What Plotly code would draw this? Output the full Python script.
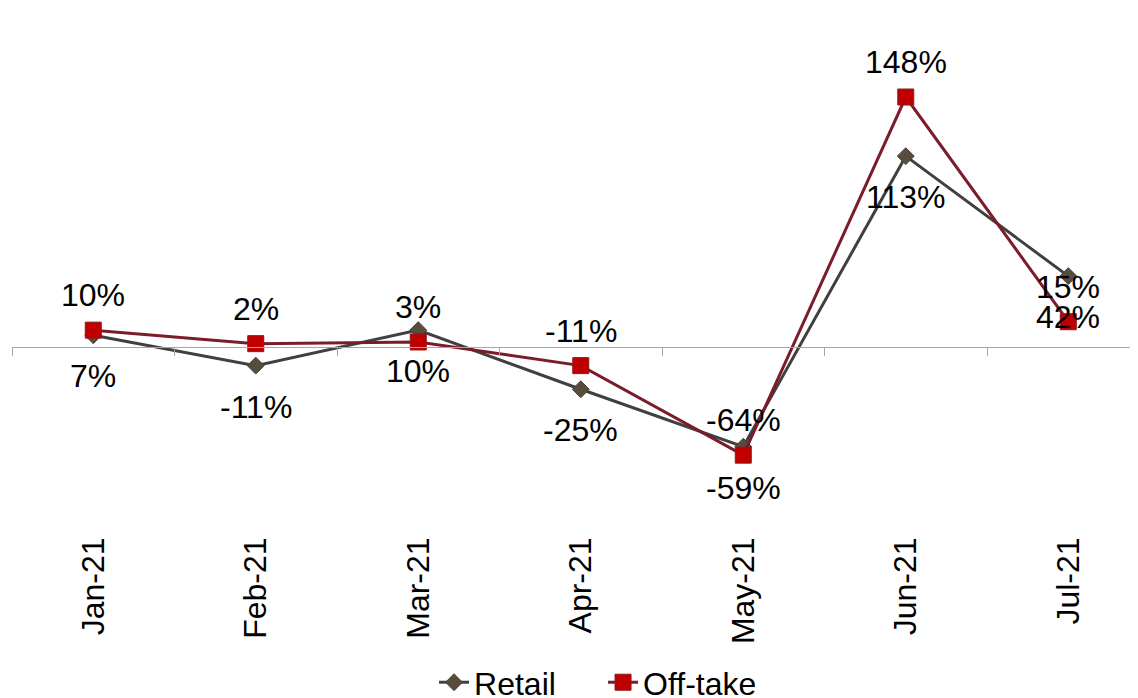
import plotly.graph_objects as go

months = ["Jan-21", "Feb-21", "Mar-21", "Apr-21", "May-21", "Jun-21", "Jul-21"]
retail = [7, -11, 10, -25, -59, 113, 42]
offtake = [10, 2, 3, -11, -64, 148, 15]

FONT = "Liberation Sans, Arial, sans-serif"
FS = 32
YMIN, YMAX = -108.3, 200.7

fig = go.Figure()
fig.add_trace(go.Scatter(
    x=months, y=retail, name="Retail", mode="lines+markers",
    line=dict(color="#404040", width=3),
    marker=dict(symbol="diamond", size=13, color="#584c3e",
                line=dict(color="#4a3f33", width=1)),
    cliponaxis=False,
))
fig.add_trace(go.Scatter(
    x=months, y=offtake, name="Off-take", mode="lines+markers",
    line=dict(color="#7b1c2b", width=3),
    marker=dict(symbol="square", size=16, color="#c00000",
                line=dict(color="#8b1a1a", width=1)),
    cliponaxis=False,
))
# helper trace so the zero-line axis is drawn
fig.add_trace(go.Scatter(
    x=months, y=retail, xaxis="x2", mode="lines", opacity=0,
    showlegend=False, hoverinfo="skip",
))

annotations = []
for m, v in zip(months, retail):
    annotations.append(dict(x=m, y=v, xref="x", yref="y", text=f"{v}%",
                            showarrow=False, yshift=-41,
                            font=dict(family=FONT, size=FS, color="#000000")))
for m, v in zip(months, offtake):
    annotations.append(dict(x=m, y=v, xref="x", yref="y", text=f"{v}%",
                            showarrow=False, yshift=35,
                            font=dict(family=FONT, size=FS, color="#000000")))

fig.update_layout(
    width=1130, height=690,
    margin=dict(l=4, r=0, t=0, b=168, autoexpand=False),
    paper_bgcolor="white", plot_bgcolor="white",
    font=dict(family=FONT, size=FS, color="#000000"),
    showlegend=True,
    annotations=annotations,
    legend=dict(orientation="h", x=0.5249, xanchor="center",
                y=-0.292, yanchor="middle",
                entrywidth=124, entrywidthmode="pixels",
                font=dict(family=FONT, size=FS, color="#000000"),
                tracegroupgap=0),
    xaxis=dict(type="category", categoryorder="array", categoryarray=months,
               range=[-0.5, 6.429], showline=False, showgrid=False,
               zeroline=False, ticks="", tickangle=-90,
               tickfont=dict(family=FONT, size=FS, color="#000000")),
    xaxis2=dict(type="category", categoryorder="array", categoryarray=months,
                matches="x", overlaying="x", anchor="free",
                position=(0 - YMIN) / (YMAX - YMIN),
                showline=True, linecolor="#a6a6a6", linewidth=1,
                ticks="outside", tickson="boundaries", ticklen=8,
                tickcolor="#a6a6a6", showticklabels=False, showgrid=False),
    yaxis=dict(range=[YMIN, YMAX], visible=False, showgrid=False,
               zeroline=False),
)

fig.write_html("out.html")
